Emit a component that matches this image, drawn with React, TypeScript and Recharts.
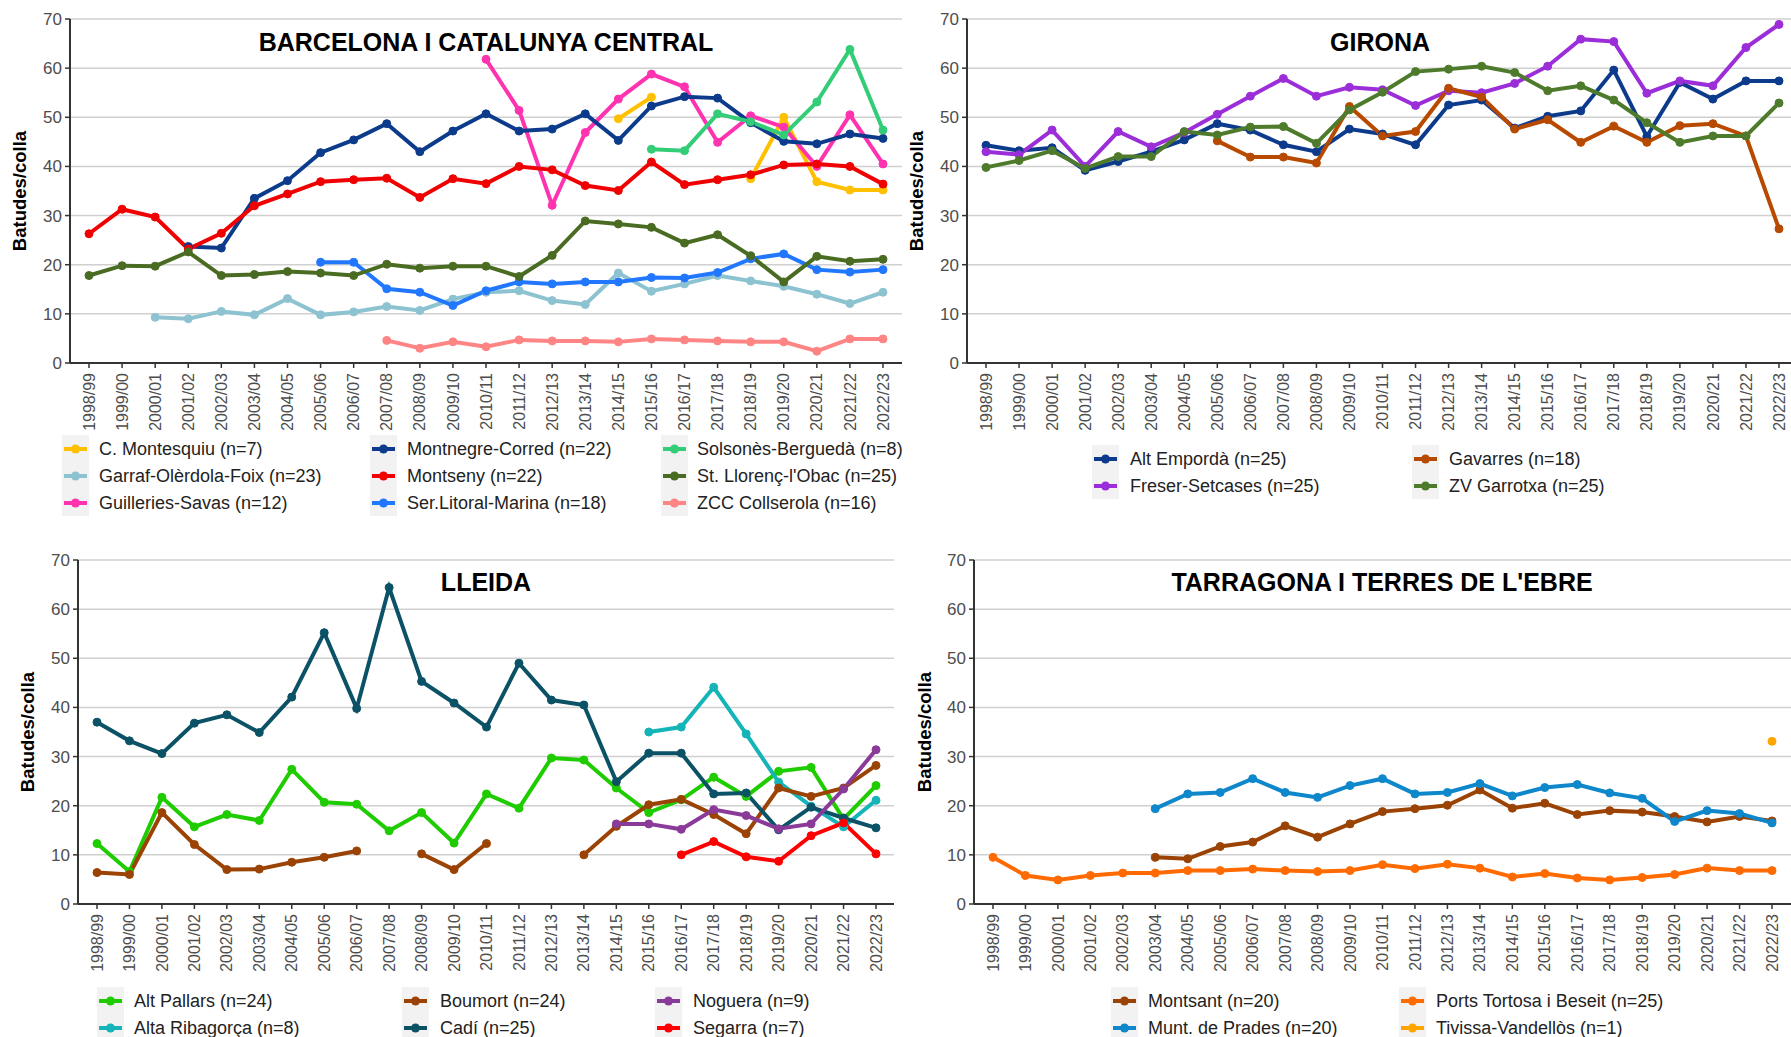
import React from "react"
import { LineChart, Line, XAxis, YAxis, CartesianGrid } from "recharts"

const _ = null

const seasons = [
  "1998/99", "1999/00", "2000/01", "2001/02", "2002/03", "2003/04", "2004/05",
  "2005/06", "2006/07", "2007/08", "2008/09", "2009/10", "2010/11", "2011/12",
  "2012/13", "2013/14", "2014/15", "2015/16", "2016/17", "2017/18", "2018/19",
  "2019/20", "2020/21", "2021/22", "2022/23",
]

const yTicks = [0, 10, 20, 30, 40, 50, 60, 70]

// Barcelona i Catalunya Central
const montesquiu = [_, _, _, _, _, _, _, _, _, _, _, _, _, _, _, _, 49.7, 54.1, _, _, 37.5, 50.0, 36.9, 35.2, 35.2]
const garraf = [_, _, 9.3, 9.0, 10.5, 9.8, 13.1, 9.8, 10.4, 11.5, 10.7, 13.0, 14.4, 14.7, 12.7, 11.9, 18.3, 14.6, 16.1, 17.8, 16.7, 15.6, 14.0, 12.1, 14.4]
const guilleries = [_, _, _, _, _, _, _, _, _, _, _, _, 61.8, 51.4, 32.1, 46.9, 53.7, 58.8, 56.2, 44.9, 50.3, 48.0, 40.0, 50.5, 40.5]
const montnegre = [_, _, _, 23.7, 23.4, 33.5, 37.1, 42.8, 45.4, 48.7, 43.0, 47.2, 50.7, 47.2, 47.6, 50.7, 45.3, 52.3, 54.2, 53.9, 48.9, 45.1, 44.6, 46.6, 45.7]
const montseny = [26.3, 31.3, 29.7, 23.2, 26.4, 32.0, 34.4, 36.9, 37.3, 37.6, 33.7, 37.5, 36.5, 40.0, 39.3, 36.1, 35.1, 40.9, 36.3, 37.3, 38.3, 40.3, 40.5, 40.0, 36.4]
const serLitoral = [_, _, _, _, _, _, _, 20.5, 20.5, 15.1, 14.4, 11.7, 14.7, 16.5, 16.1, 16.5, 16.5, 17.4, 17.3, 18.4, 21.2, 22.2, 19.0, 18.5, 19.0]
const solsones = [_, _, _, _, _, _, _, _, _, _, _, _, _, _, _, _, _, 43.5, 43.2, 50.7, 49.1, 46.4, 53.1, 63.8, 47.4]
const stLlorenc = [17.8, 19.8, 19.7, 22.6, 17.8, 18.0, 18.6, 18.3, 17.8, 20.1, 19.3, 19.7, 19.7, 17.6, 21.9, 28.9, 28.3, 27.6, 24.4, 26.1, 21.8, 16.5, 21.7, 20.7, 21.1]
const collserola = [_, _, _, _, _, _, _, _, _, 4.6, 3.0, 4.3, 3.3, 4.7, 4.5, 4.5, 4.3, 4.9, 4.7, 4.5, 4.3, 4.3, 2.4, 4.9, 4.9]

// Girona
const altEmporda = [44.3, 43.2, 43.8, 39.2, 41.0, 43.0, 45.4, 48.7, 47.4, 44.4, 43.0, 47.6, 46.6, 44.4, 52.5, 53.5, 47.8, 50.2, 51.3, 59.6, 46.1, 57.1, 53.7, 57.4, 57.4]
const freser = [43.0, 42.4, 47.4, 40.0, 47.1, 44.0, 46.9, 50.6, 54.3, 57.9, 54.3, 56.1, 55.6, 52.4, 55.4, 55.0, 56.9, 60.4, 65.9, 65.4, 54.9, 57.4, 56.4, 64.2, 68.9]
const gavarres = [_, _, _, _, _, _, _, 45.2, 41.9, 41.9, 40.7, 52.2, 46.2, 47.1, 55.9, 54.1, 47.6, 49.5, 44.9, 48.2, 44.9, 48.3, 48.7, 46.2, 27.3]
const garrotxa = [39.8, 41.2, 43.2, 39.6, 42.0, 42.0, 47.1, 46.4, 48.0, 48.1, 44.7, 51.5, 55.1, 59.3, 59.8, 60.4, 59.1, 55.4, 56.4, 53.5, 48.9, 44.9, 46.2, 46.2, 52.9]

// Lleida
const altPallars = [12.3, 6.6, 21.7, 15.7, 18.2, 17.0, 27.4, 20.7, 20.3, 14.9, 18.6, 12.4, 22.4, 19.5, 29.7, 29.3, 23.6, 18.6, 21.2, 25.8, 21.9, 27.0, 27.8, 17.3, 24.1]
const altaRibagorca = [_, _, _, _, _, _, _, _, _, _, _, _, _, _, _, _, _, 35.0, 36.0, 44.1, 34.6, 24.8, 19.9, 15.7, 21.1]
const boumort = [6.4, 6.0, 18.6, 12.1, 7.0, 7.1, 8.5, 9.5, 10.8, _, 10.2, 7.0, 12.3, _, _, 10.0, 15.8, 20.2, 21.3, 18.2, 14.3, 23.6, 21.9, 23.6, 28.2]
const cadi = [37.0, 33.2, 30.6, 36.8, 38.5, 34.9, 42.1, 55.2, 39.8, 64.4, 45.3, 40.9, 36.0, 49.0, 41.5, 40.5, 24.9, 30.7, 30.7, 22.4, 22.6, 15.1, 19.7, 17.5, 15.5]
const noguera = [_, _, _, _, _, _, _, _, _, _, _, _, _, _, _, _, 16.3, 16.3, 15.2, 19.2, 18.0, 15.3, 16.3, 23.4, 31.4]
const segarra = [_, _, _, _, _, _, _, _, _, _, _, _, _, _, _, _, _, _, 10.0, 12.7, 9.6, 8.7, 13.9, 16.5, 10.2]

// Tarragona i Terres de l'Ebre
const montsant = [_, _, _, _, _, 9.5, 9.2, 11.7, 12.6, 15.9, 13.6, 16.3, 18.8, 19.4, 20.1, 23.2, 19.5, 20.5, 18.2, 19.0, 18.7, 17.8, 16.7, 17.8, 16.9]
const muntPrades = [_, _, _, _, _, 19.4, 22.4, 22.7, 25.5, 22.7, 21.7, 24.1, 25.5, 22.4, 22.7, 24.5, 22.0, 23.7, 24.3, 22.6, 21.5, 16.8, 19.0, 18.4, 16.5]
const portsTortosa = [9.5, 5.8, 4.9, 5.8, 6.3, 6.3, 6.8, 6.8, 7.1, 6.8, 6.6, 6.8, 8.0, 7.2, 8.1, 7.3, 5.5, 6.2, 5.3, 4.9, 5.4, 6.0, 7.3, 6.8, 6.8]
const tivissa = [_, _, _, _, _, _, _, _, _, _, _, _, _, _, _, _, _, _, _, _, _, _, _, _, 33.1]

type Series = { name: string; color: string; values: (number | null)[] }

const FONT = "'Liberation Sans', Arial, Helvetica, sans-serif"

const panels = [
  {
    title: "BARCELONA I CATALUNYA CENTRAL",
    left: 0, top: 0, width: 910, height: 460,
    margin: { top: 19, right: 8, left: 20, bottom: 0 },
    yAxisWidth: 50, xAxisHeight: 97, padding: { left: 19, right: 19 },
    titleX: 486, titleY: 42, labelX: 20, labelY: 191,
    legendCols: [{ cx: 75, tx: 99 }, { cx: 383, tx: 407 }, { cx: 674, tx: 697 }],
    legendTop: 449, perCol: 3,
    series: [
      { name: "C. Montesquiu (n=7)", color: "#FFC000", values: montesquiu },
      { name: "Garraf-Olèrdola-Foix (n=23)", color: "#8DC3D1", values: garraf },
      { name: "Guilleries-Savas (n=12)", color: "#FF33B0", values: guilleries },
      { name: "Montnegre-Corred (n=22)", color: "#0D3B8C", values: montnegre },
      { name: "Montseny (n=22)", color: "#F00000", values: montseny },
      { name: "Ser.Litoral-Marina (n=18)", color: "#2277FF", values: serLitoral },
      { name: "Solsonès-Berguedà (n=8)", color: "#33CC77", values: solsones },
      { name: "St. Llorenç-l'Obac (n=25)", color: "#4A6B22", values: stLlorenc },
      { name: "ZCC Collserola (n=16)", color: "#FF8585", values: collserola },
    ] as Series[],
  },
  {
    title: "GIRONA",
    left: 900, top: 0, width: 891, height: 460,
    margin: { top: 19, right: 0, left: 17, bottom: 0 },
    yAxisWidth: 50, xAxisHeight: 97, padding: { left: 19, right: 12 },
    titleX: 1380, titleY: 42, labelX: 917, labelY: 191,
    legendCols: [{ cx: 1105, tx: 1130 }, { cx: 1425, tx: 1449 }],
    legendTop: 459, perCol: 2,
    series: [
      { name: "Alt Empordà (n=25)", color: "#0D3B8C", values: altEmporda },
      { name: "Freser-Setcases (n=25)", color: "#9B2ED8", values: freser },
      { name: "Gavarres (n=18)", color: "#B84A00", values: gavarres },
      { name: "ZV Garrotxa (n=25)", color: "#4E7B2B", values: garrotxa },
    ] as Series[],
  },
  {
    title: "LLEIDA",
    left: 0, top: 540, width: 910, height: 460,
    margin: { top: 20, right: 16, left: 28, bottom: 0 },
    yAxisWidth: 50, xAxisHeight: 96, padding: { left: 19, right: 18 },
    titleX: 486, titleY: 582, labelX: 28, labelY: 732,
    legendCols: [{ cx: 110, tx: 134 }, { cx: 415, tx: 440 }, { cx: 668, tx: 693 }],
    legendTop: 1001, perCol: 2,
    series: [
      { name: "Alt Pallars (n=24)", color: "#1FCC00", values: altPallars },
      { name: "Alta Ribagorça (n=8)", color: "#14B4B8", values: altaRibagorca },
      { name: "Boumort (n=24)", color: "#9A4304", values: boumort },
      { name: "Cadí (n=25)", color: "#0B5266", values: cadi },
      { name: "Noguera (n=9)", color: "#8A3A98", values: noguera },
      { name: "Segarra (n=7)", color: "#FF0000", values: segarra },
    ] as Series[],
  },
  {
    title: "TARRAGONA I TERRES DE L'EBRE",
    left: 900, top: 540, width: 891, height: 460,
    margin: { top: 20, right: 0, left: 25, bottom: 0 },
    yAxisWidth: 49, xAxisHeight: 96, padding: { left: 19, right: 19 },
    titleX: 1382, titleY: 582, labelX: 925, labelY: 732,
    legendCols: [{ cx: 1124, tx: 1148 }, { cx: 1412, tx: 1436 }],
    legendTop: 1001, perCol: 2,
    series: [
      { name: "Montsant (n=20)", color: "#9A4304", values: montsant },
      { name: "Munt. de Prades (n=20)", color: "#0E87CB", values: muntPrades },
      { name: "Ports Tortosa i Beseit (n=25)", color: "#FF6B00", values: portsTortosa },
      { name: "Tivissa-Vandellòs (n=1)", color: "#FFA500", values: tivissa },
    ] as Series[],
  },
]

const SeasonTick = (props: any) => {
  const { x, y, payload } = props
  return (
    <text
      x={x}
      y={y}
      transform={`rotate(-90, ${x}, ${y})`}
      textAnchor="end"
      dy="0.35em"
      fontSize={16}
      fill="#4d4d4d"
      fontFamily={FONT}
    >
      {payload.value}
    </text>
  )
}

const ROW = 27

function Panel({ p }: { p: (typeof panels)[number] }) {
  const rows = seasons.map((season, i) => {
    const row: Record<string, any> = { season }
    p.series.forEach((s, k) => {
      row[`s${k}`] = s.values[i]
    })
    return row
  })

  return (
    <>
      <div style={{ position: "absolute", left: p.left, top: p.top }}>
        <LineChart width={p.width} height={p.height} data={rows} margin={p.margin}>
          <CartesianGrid vertical={false} stroke="#d0d0d0" strokeWidth={1.5} />
          <XAxis
            dataKey="season"
            interval={0}
            height={p.xAxisHeight}
            padding={p.padding}
            tick={<SeasonTick />}
            tickSize={5}
            tickMargin={5}
            tickLine={{ stroke: "#333", strokeWidth: 1.5 }}
            axisLine={{ stroke: "#333", strokeWidth: 2 }}
          />
          <YAxis
            width={p.yAxisWidth}
            domain={[0, 70]}
            ticks={yTicks}
            interval={0}
            tickSize={5}
            tickMargin={3}
            tick={{ fontSize: 17, fill: "#4d4d4d", fontFamily: FONT }}
            tickLine={{ stroke: "#333", strokeWidth: 1.5 }}
            axisLine={{ stroke: "#333", strokeWidth: 2 }}
          />
          {p.series.map((s, k) => (
            <Line
              key={s.name}
              type="linear"
              dataKey={`s${k}`}
              stroke={s.color}
              strokeWidth={4}
              dot={{ r: 4, fill: s.color, stroke: s.color, strokeWidth: 1 }}
              activeDot={false}
              connectNulls={false}
              isAnimationActive={false}
            />
          ))}
        </LineChart>
      </div>

      <div
        style={{
          position: "absolute", left: p.titleX, top: p.titleY,
          transform: "translate(-50%, -50%)", whiteSpace: "nowrap",
          fontFamily: FONT, fontWeight: "bold", fontSize: 25, lineHeight: 1, color: "#000",
        }}
      >
        {p.title}
      </div>

      <div
        style={{
          position: "absolute", left: p.labelX, top: p.labelY,
          transform: "translate(-50%, -50%) rotate(-90deg)", whiteSpace: "nowrap",
          fontFamily: FONT, fontWeight: "bold", fontSize: 18.5, lineHeight: 1, color: "#000",
        }}
      >
        Batudes/colla
      </div>

      {p.legendCols.map((col, c) => {
        const items = p.series.slice(c * p.perCol, (c + 1) * p.perCol)
        return (
          <React.Fragment key={c}>
            <div
              style={{
                position: "absolute", left: col.cx - 13, top: p.legendTop - 14,
                width: 27, height: items.length * ROW, background: "#f2f2f2",
              }}
            />
            {items.map((s, r) => (
              <React.Fragment key={s.name}>
                <svg
                  width={27}
                  height={ROW}
                  style={{ position: "absolute", left: col.cx - 13, top: p.legendTop - 14 + r * ROW }}
                >
                  <line x1={2} x2={25} y1={14} y2={14} stroke={s.color} strokeWidth={4} />
                  <circle cx={13.5} cy={14} r={4.5} fill={s.color} />
                </svg>
                <div
                  style={{
                    position: "absolute", left: col.tx, top: p.legendTop + r * ROW,
                    transform: "translateY(-50%)", whiteSpace: "nowrap",
                    fontFamily: FONT, fontSize: 18, lineHeight: 1, color: "#222",
                  }}
                >
                  {s.name}
                </div>
              </React.Fragment>
            ))}
          </React.Fragment>
        )
      })}
    </>
  )
}

export default function App() {
  return (
    <div
      style={{
        position: "absolute", left: 0, top: 0, width: 1791, height: 1037,
        background: "#fff", overflow: "hidden",
      }}
    >
      {panels.map((p) => (
        <Panel key={p.title} p={p} />
      ))}
    </div>
  )
}
